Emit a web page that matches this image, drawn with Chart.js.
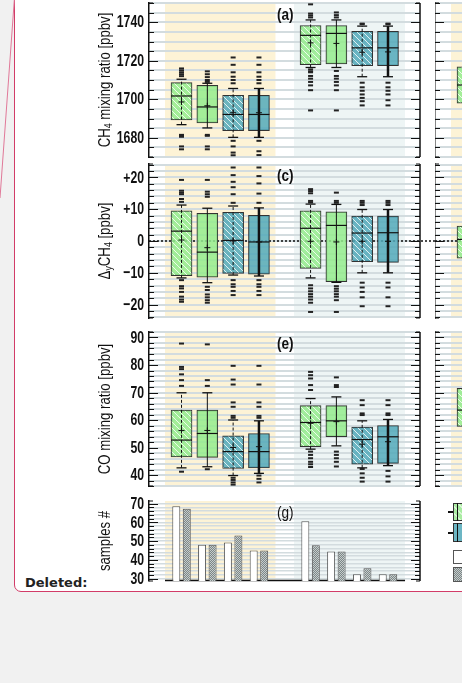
<!DOCTYPE html>
<html>
<head>
<meta charset="utf-8">
<script src="https://cdn.jsdelivr.net/npm/chart.js@4.4.1/dist/chart.umd.min.js"></script>
<style>
html, body { margin: 0; overflow: hidden; }
body { background: #f1f1f1; width: 462px; height: 683px; position: relative; }
#frame { position: absolute; left: 13.5px; top: -10px; width: 700px; height: 602px; box-sizing: border-box;
         background: #fff; border: 1.5px solid #d23c68; border-radius: 0 0 0 7px; }
canvas { position: absolute; }
#deleted { position: absolute; left: 25px; top: 575px; line-height: 15px; font: bold 13px 'DejaVu Sans', sans-serif; color: #222; }
.lg { position: absolute; box-sizing: border-box; }
</style>
</head>
<body>
<div id="frame"></div>
<svg width="20" height="220" style="position:absolute;left:0;top:0">
  <line x1="14.3" y1="0" x2="0" y2="198" stroke="#e07898" stroke-width="1"/>
</svg>
<div id="deleted">Deleted:</div>

<canvas id="pa" width="440" height="174" style="left:0;top:-7px"></canvas>
<canvas id="pc" width="440" height="174" style="left:0;top:154px"></canvas>
<canvas id="pe" width="440" height="174" style="left:0;top:322px"></canvas>
<canvas id="pg" width="440" height="100" style="left:0;top:491px"></canvas>

<canvas id="pb" width="291" height="174" style="left:435px;top:-7px"></canvas>
<canvas id="pd" width="291" height="174" style="left:435px;top:154px"></canvas>
<canvas id="pf" width="291" height="174" style="left:435px;top:322px"></canvas>

<!-- legend of panel (h), mostly cut off -->
<div class="lg" style="left:448px;top:511px;width:20px;height:1.5px;background:#111"></div>
<div class="lg" id="lgGreen" style="left:452.5px;top:503px;width:30px;height:18px;border:1px solid #333"></div>
<div class="lg" style="left:456.5px;top:503px;width:1.5px;height:18px;background:#111"></div>
<div class="lg" style="left:448px;top:532px;width:20px;height:1.5px;background:#111"></div>
<div class="lg" style="left:452.5px;top:523px;width:30px;height:19px;border:1px solid #333;background:#6cb6c4"></div>
<div class="lg" style="left:456.5px;top:523px;width:1.5px;height:19px;background:#111"></div>
<div class="lg" style="left:452.5px;top:550px;width:30px;height:14px;border:1px solid #555;background:#fff"></div>
<div class="lg" style="left:452.5px;top:567px;width:30px;height:15px;border:1px solid #555;
     background: repeating-conic-gradient(#7d8787 0 25%, #c5cccc 0 50%) 0 0 / 2px 2px"></div>

<script>
const FONT = "'Liberation Sans', Arial, sans-serif";

// box positions along the x axis (slot 4 is the gap between the two groups)
const SLOTS = [0, 1, 2, 3, 5, 6, 7, 8];

// (a) CH4 mixing ratio [ppbv]
const CH4_LABELS = [1680, 1700, 1720, 1740];
const CH4_Q1   = [1689.3, 1687.7, 1683.7, 1683.7, 1717.9, 1718.4, 1717.5, 1717.4];
const CH4_MED  = [1701.7, 1696.0, 1692.1, 1692.1, 1733.2, 1734.2, 1726.7, 1726.7];
const CH4_Q3   = [1708.6, 1707.2, 1702.1, 1702.1, 1738.3, 1738.3, 1735.3, 1735.3];
const CH4_WLO  = [1686.8, 1685.1, 1680.2, 1680.2, 1716.5, 1716.5, 1711.7, 1711.7];
const CH4_WHI  = [1710.4, 1708.3, 1705.6, 1705.6, 1741.2, 1741.2, 1738.0, 1738.0];
const CH4_MEAN = [1698.6, 1696.6, 1693.0, 1693.0, 1729.3, 1729.0, 1724.4, 1724.6];
const CH4_OUT = [
  [1716, 1715, 1714, 1713, 1712, 1681.5, 1681, 1680.5, 1675.5, 1674],
  [1714.5, 1713, 1711.5, 1710, 1709, 1681.5, 1681, 1675.5, 1674],
  [1721.7, 1717.9, 1714, 1711.7, 1710, 1708.3, 1678.4, 1675.5, 1672.3, 1670.9],
  [1721.7, 1717.9, 1714, 1711.7, 1710, 1708.3, 1678.4, 1673, 1671],
  [1749.3, 1744.5, 1743.5, 1742.5, 1715.5, 1714.5, 1714, 1712.1, 1710.7, 1709, 1707.2, 1704.7, 1694.2],
  [1745.1, 1743.7, 1742.5, 1714.7, 1712.1, 1710.7, 1709, 1707.2, 1704.7, 1694.2],
  [1739.3, 1739, 1708.6, 1706.2, 1704.4, 1702.5, 1700.7, 1699, 1696.8],
  [1739.3, 1739, 1708.6, 1706.2, 1704.4, 1702.5, 1699.5, 1696.8]
];

// (c) Delta CH4 [ppbv]
const DCH4_LABELS = [-20, -10, 0, 10, 20];
const DCH4_Q1   = [-10.9, -11.4, -10.2, -10.4, -8.6, -12.8, -6.5, -6.7];
const DCH4_MED  = [3.1, -3.5, 0.2, -0.3, 4.0, 4.9, 2.5, 2.6];
const DCH4_Q3   = [9.5, 8.7, 9.0, 8.1, 9.5, 9.2, 7.8, 7.8];
const DCH4_WLO  = [-11.6, -13.1, -10.7, -11.0, -11.6, -13.0, -10.0, -10.0];
const DCH4_WHI  = [11.3, 10.3, 11.0, 10.4, 11.6, 11.5, 9.9, 9.9];
const DCH4_MEAN = [0.3, -2.1, 0.0, -0.3, -0.1, -0.3, -0.1, -0.1];
const DCH4_OUT = [
  [19.2, 15.8, 15.2, 14.7, 13.2, 12.3, -12.3, -14.2, -14.9, -16.0, -17.5, -18.4, -19.1],
  [19.2, 15.5, 14.7, 13.9, -14.4, -15.4, -16.8, -17.7, -18.6, -19.4],
  [23.1, 20.7, 18.6, 16.9, 14.7, 12.0, -12.3, -13.6, -14.4, -15.7, -17.0],
  [23.1, 20.4, 18.1, 14.9, 12.0, -12.3, -13.6, -14.4, -15.7, -17.0],
  [16.3, 15.7, 15.0, 12.6, 12.1, -13.9, -14.9, -15.8, -16.7, -17.5, -18.4, -19.4, -22.3],
  [15.2, 12.6, 12.0, -14.2, -15.0, -15.8, -16.7, -17.5, -18.6, -22.3],
  [12.6, 12.0, 11.3, -13.1, -14.6, -16.0, -17.7, -20.5],
  [12.6, 12.0, 11.3, -13.1, -14.6, -17.7, -20.5]
];

// (e) CO mixing ratio [ppbv]
const CO_LABELS = [40, 50, 60, 70, 80, 90];
const CO_Q1   = [46.6, 46.4, 42.4, 42.6, 50.3, 53.9, 43.9, 44.2];
const CO_MED  = [52.7, 55.1, 48.5, 48.5, 59.1, 59.7, 52.9, 53.9];
const CO_Q3   = [63.6, 63.6, 54.2, 55.1, 65.2, 65.2, 57.4, 58.0];
const CO_WLO  = [42.6, 43.0, 39.8, 40.6, 49.4, 50.6, 42.6, 43.4];
const CO_WHI  = [69.9, 69.9, 60.0, 59.7, 67.8, 68.4, 59.7, 60.2];
const CO_MEAN = [56.2, 56.2, 50.0, 50.3, 58.8, 59.4, 51.2, 52.1];
const CO_OUT = [
  [87.8, 79.3, 78.5, 76.6, 74.5, 72.4, 41.2],
  [87.5, 74.5, 72.4, 42.1],
  [79.7, 74.7, 72.9, 66.4, 64.8, 61.5, 60.8, 39.0, 38.2, 37.3, 36.5],
  [79.7, 72.9, 66.4, 64.8, 61.5, 60.8, 39.8, 38.6, 37.3],
  [77.5, 76.3, 75.1, 72.7, 70.9, 48.5, 47.3, 46.1, 44.8, 43.9, 42.9],
  [75.5, 72.7, 72.0, 48.5, 47.3, 46.1, 44.8, 43.1],
  [67.2, 65.4, 62.4, 61.8, 42.2, 40.6, 39.0, 37.6],
  [67.2, 65.4, 62.4, 61.8, 41.5, 39.5, 37.6]
];

// (g) samples #
const N_LABELS = [30, 40, 50, 60, 70];
const N_WHITE = [68.6, 48.1, 49.2, 45.0, 60.6, 44.4, 32.3, 32.3];
const N_GRAY  = [67.3, 48.0, 53.0, 45.0, 47.8, 44.4, 35.5, 32.3];

// right-hand column, only its first box is inside the picture
const R_SLOTS = [0];
const B_Q1 = [1697.9], B_MED = [1707.4], B_Q3 = [1716.8];
const D_Q1 = [-5.4],   D_MED = [0.5],    D_Q3 = [4.7];
const F_Q1 = [57.7],   F_MED = [63.6],   F_Q3 = [71.5];

const X_MIN = -1.26, X_MAX = 9.24;
const BANDS = [
  { from: -0.64, to: 3.64, color: '#fdf3d6' },
  { from: 4.36, to: 8.66, color: '#eef5f5' }
];

const GREEN = 'rgba(148,236,141,0.85)';
const TEAL = 'rgba(82,169,186,0.85)';

function hatch(color) {
  const c = document.createElement('canvas');
  c.width = c.height = 6;
  const g = c.getContext('2d');
  g.fillStyle = color; g.fillRect(0, 0, 6, 6);
  g.strokeStyle = 'rgba(255,255,255,0.8)'; g.lineWidth = 1;
  g.beginPath();
  g.moveTo(0, 0); g.lineTo(6, 6);
  g.moveTo(-1, 5); g.lineTo(1, 7);
  g.moveTo(5, -1); g.lineTo(7, 1);
  g.stroke();
  return g.createPattern(c, 'repeat');
}
function checker() {
  const c = document.createElement('canvas');
  c.width = c.height = 2;
  const g = c.getContext('2d');
  g.fillStyle = '#c5cccc'; g.fillRect(0, 0, 2, 2);
  g.fillStyle = '#7d8787'; g.fillRect(0, 0, 1, 1); g.fillRect(1, 1, 1, 1);
  return g.createPattern(c, 'repeat');
}
document.getElementById('lgGreen').style.background =
  'repeating-linear-gradient(45deg, #a9eca2 0 4px, #d8f6d4 4px 5px)';

const FILLS = [hatch(GREEN), GREEN, hatch(TEAL), TEAL];
const WHISK_DASH = [[3, 2], [], [3, 2], []];
const WHISK_W = [1, 1, 1, 2.5];

function boxSets(slots, d) {
  const sets = [{
    type: 'bar', order: 10,
    data: slots.map((x, i) => ({ x, y: [d.q1[i], d.q3[i]] })),
    backgroundColor: slots.map((x, i) => FILLS[i % 4]),
    borderColor: '#333', borderWidth: 1, borderSkipped: false, barThickness: 21
  }, {
    type: 'scatter', order: 2,
    data: slots.map((x, i) => ({ x, y: d.med[i] })),
    pointStyle: 'line', pointRadius: 10.5, pointBorderWidth: 1.2, pointBorderColor: '#111'
  }];
  if (!d.wlo) return sets;
  slots.forEach((x, i) => sets.push({
    type: 'line', order: 5,
    data: [{ x, y: d.wlo[i] }, { x, y: d.whi[i] }],
    borderColor: '#111', borderWidth: WHISK_W[i % 4], borderDash: WHISK_DASH[i % 4], pointRadius: 0
  }));
  sets.push({
    type: 'scatter', order: 2,
    data: slots.flatMap((x, i) => [{ x, y: d.wlo[i] }, { x, y: d.whi[i] }]),
    pointStyle: 'line', pointRadius: 5, pointBorderWidth: 1.3, pointBorderColor: '#111'
  }, {
    type: 'scatter', order: 1,
    data: slots.map((x, i) => ({ x, y: d.mean[i] })),
    pointStyle: 'cross', pointRadius: 3, pointBorderWidth: 1, pointBorderColor: '#111'
  }, {
    type: 'scatter', order: 1,
    data: slots.flatMap((x, i) => d.out[i].map(y => ({ x, y }))),
    pointStyle: 'line', pointRadius: 2.5, pointBorderWidth: 2, pointBorderColor: '#222'
  });
  return sets;
}

// condensed text: the reference uses a narrow face, squeeze a normal one
function narrowText(ctx, txt, x, y, sx) {
  ctx.save();
  ctx.translate(x, y);
  ctx.scale(sx, 1);
  ctx.fillText(txt, 0, 0);
  ctx.restore();
}

const decor = {
  id: 'decor',
  beforeDraw(chart, args, o) {
    const { ctx, chartArea: a, scales: { x } } = chart;
    ctx.save();
    BANDS.forEach(b => {
      const x0 = Math.max(a.left, x.getPixelForValue(b.from));
      const x1 = Math.min(a.right, x.getPixelForValue(b.to));
      if (x1 > x0) { ctx.fillStyle = b.color; ctx.fillRect(x0, a.top, x1 - x0, a.bottom - a.top); }
    });
    ctx.restore();
  },
  beforeDatasetsDraw(chart, args, o) {
    const { ctx, chartArea: a, scales: { x, y } } = chart;
    ctx.save();
    ctx.strokeStyle = '#111';
    ctx.lineWidth = 1.2;
    ctx.beginPath();
    y.ticks.forEach(t => {
      const py = Math.round(y.getPixelForValue(t.value)) + 0.5;
      const len = o.labels.includes(t.value) ? 9 : 5;
      ctx.moveTo(a.left, py); ctx.lineTo(a.left + len, py);
      ctx.moveTo(a.right, py); ctx.lineTo(a.right - len, py);
    });
    [a.top, a.bottom].forEach(py => {
      ctx.moveTo(a.left, py); ctx.lineTo(a.left + 4, py);
      ctx.moveTo(a.right, py); ctx.lineTo(a.right - 4, py);
    });
    ctx.stroke();
    ctx.lineWidth = 1.5;
    ctx.beginPath(); ctx.moveTo(a.right, a.top); ctx.lineTo(a.right, a.bottom); ctx.stroke();
    if (o.zero) {
      const py = y.getPixelForValue(0);
      ctx.setLineDash([2, 2]);
      ctx.beginPath(); ctx.moveTo(a.left, py); ctx.lineTo(a.right + (o.gap || 0), py); ctx.stroke();
      ctx.setLineDash([]);
    }
    if (o.baseline) {
      ctx.beginPath();
      ctx.moveTo(x.getPixelForValue(BANDS[0].from), a.bottom - 0.5);
      ctx.lineTo(x.getPixelForValue(BANDS[1].to), a.bottom - 0.5);
      ctx.stroke();
    }
    ctx.restore();
  },
  afterDraw(chart, args, o) {
    const { ctx, chartArea: a, scales: { y } } = chart;
    ctx.save();
    ctx.fillStyle = '#111';
    if (o.showLabels) {
      ctx.font = 'bold 17px ' + FONT;
      ctx.textAlign = 'right';
      ctx.textBaseline = 'middle';
      o.labels.forEach(v => narrowText(ctx, o.fmt(v), a.left - 5, y.getPixelForValue(v) + 0.5, 0.72));
      ctx.textAlign = 'left';
    }
    if (o.letter) {
      ctx.font = (o.letterWeight || 'bold') + ' 17px ' + FONT;
      ctx.textBaseline = 'top';
      narrowText(ctx, o.letter, a.left + 128, a.top + 4, 0.8);
    }
    if (o.title) {
      ctx.translate(105, (a.top + a.bottom) / 2);
      ctx.rotate(-Math.PI / 2);
      ctx.scale(0.8, 1);
      ctx.textBaseline = 'middle';
      const big = '16.5px ' + FONT, small = '11px ' + FONT;
      let w = 0;
      o.title.forEach(s => { ctx.font = s[1] ? small : big; w += ctx.measureText(s[0]).width; });
      let px = -w / 2;
      o.title.forEach(s => {
        ctx.font = s[1] ? small : big;
        ctx.fillText(s[0], px, s[1] ? 4 : 0);
        px += ctx.measureText(s[0]).width;
      });
    }
    ctx.restore();
  }
};

function makePanel(id, cfg) {
  const ticks = [];
  for (let v = Math.ceil(cfg.min / cfg.step) * cfg.step; v <= cfg.max + 1e-9; v += cfg.step) {
    ticks.push(Math.round(v * 100) / 100);
  }
  return new Chart(document.getElementById(id), {
    type: 'bar',
    data: { datasets: cfg.datasets },
    options: {
      responsive: false, animation: false, devicePixelRatio: 1,
      layout: { autoPadding: false, padding: { left: 0, right: 20, top: 10, bottom: 10 } },
      plugins: {
        legend: { display: false }, tooltip: { enabled: false },
        decor: { labels: cfg.labels, fmt: cfg.fmt, showLabels: cfg.axisWidth > 0, letter: cfg.letter,
                 letterWeight: cfg.letterWeight, title: cfg.title, zero: cfg.zero, gap: cfg.gap,
                 baseline: cfg.baseline }
      },
      scales: {
        x: { type: 'linear', min: X_MIN, max: X_MAX, offset: false, display: false },
        y: {
          min: cfg.min, max: cfg.max,
          afterBuildTicks: s => { s.ticks = ticks.map(v => ({ value: v })); },
          afterFit: s => { s.width = cfg.axisWidth; },
          grid: { color: '#d3dcdf', lineWidth: cfg.gridWidth || 2, drawTicks: false },
          border: { color: '#111', width: 1.5 },
          ticks: { display: false }
        }
      }
    },
    plugins: [decor]
  });
}

const plain = v => String(v);
const signed = v => v > 0 ? '+' + v : v < 0 ? '\u2212' + (-v) : '0';

makePanel('pa', {
  min: 1670, max: 1750, step: 5, labels: CH4_LABELS, fmt: plain, axisWidth: 149, letter: '(a)',
  title: [['CH'], ['4', 1], [' mixing ratio [ppbv]']],
  datasets: boxSets(SLOTS, { q1: CH4_Q1, med: CH4_MED, q3: CH4_Q3, wlo: CH4_WLO, whi: CH4_WHI, mean: CH4_MEAN, out: CH4_OUT })
});
makePanel('pc', {
  min: -24.2, max: 24.2, step: 2, labels: DCH4_LABELS, fmt: signed, axisWidth: 149, letter: '(c)',
  zero: true, gap: 15,
  title: [['\u0394'], ['y', 1], ['CH'], ['4', 1], [' [ppbv]']],
  datasets: boxSets(SLOTS, { q1: DCH4_Q1, med: DCH4_MED, q3: DCH4_Q3, wlo: DCH4_WLO, whi: DCH4_WHI, mean: DCH4_MEAN, out: DCH4_OUT })
});
makePanel('pe', {
  min: 36, max: 92, step: 2, labels: CO_LABELS, fmt: plain, axisWidth: 149, letter: '(e)',
  title: [['CO mixing ratio [ppbv]']],
  datasets: boxSets(SLOTS, { q1: CO_Q1, med: CO_MED, q3: CO_Q3, wlo: CO_WLO, whi: CO_WHI, mean: CO_MEAN, out: CO_OUT })
});
makePanel('pg', {
  min: 28.7, max: 71.4, step: 2, labels: N_LABELS, fmt: plain, axisWidth: 149, letter: '(g)',
  letterWeight: 'normal', gridWidth: 1.5, baseline: true, title: [['samples #']],
  datasets: [
    { type: 'bar', data: SLOTS.map((x, i) => ({ x, y: N_WHITE[i] })), backgroundColor: '#fff',
      borderColor: '#555', borderWidth: 1, categoryPercentage: 0.814, barPercentage: 0.76 },
    { type: 'bar', data: SLOTS.map((x, i) => ({ x, y: N_GRAY[i] })), backgroundColor: checker(),
      borderColor: '#555', borderWidth: 1, categoryPercentage: 0.814, barPercentage: 0.76 }
  ]
});

makePanel('pb', {
  min: 1670, max: 1750, step: 5, labels: CH4_LABELS, fmt: plain, axisWidth: 0,
  datasets: boxSets(R_SLOTS, { q1: B_Q1, med: B_MED, q3: B_Q3 })
});
makePanel('pd', {
  min: -24.2, max: 24.2, step: 2, labels: DCH4_LABELS, fmt: signed, axisWidth: 0, zero: true,
  datasets: boxSets(R_SLOTS, { q1: D_Q1, med: D_MED, q3: D_Q3 })
});
makePanel('pf', {
  min: 36, max: 92, step: 2, labels: CO_LABELS, fmt: plain, axisWidth: 0,
  datasets: boxSets(R_SLOTS, { q1: F_Q1, med: F_MED, q3: F_Q3 })
});
</script>
</body>
</html>
